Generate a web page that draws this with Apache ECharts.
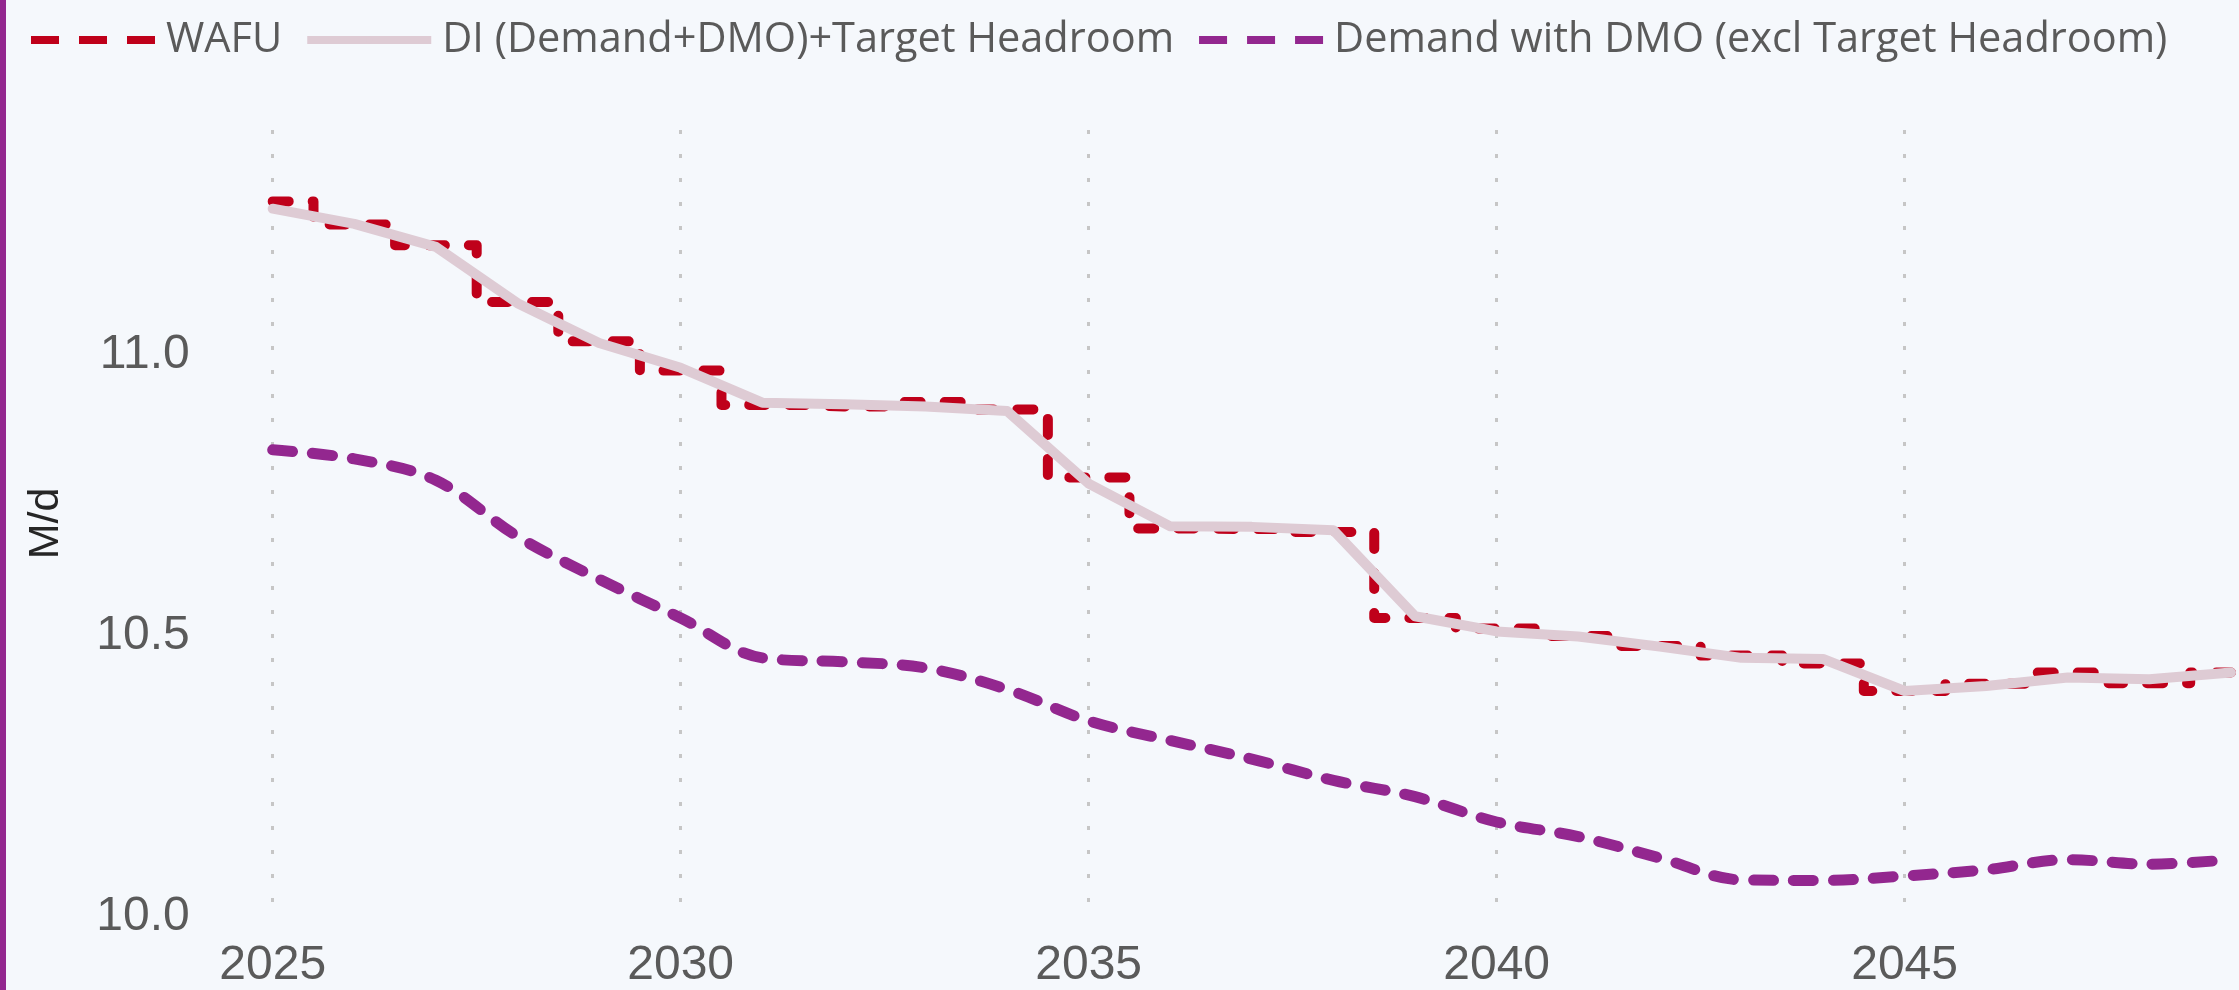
<!DOCTYPE html>
<html>
<head>
<meta charset="utf-8">
<script src="https://cdn.jsdelivr.net/npm/echarts@6/dist/echarts.min.js"></script>
<style>
html,body{margin:0;padding:0;background:#f5f8fc;}
#chart{width:2239px;height:990px;}
</style>
</head>
<body>
<div id="chart"></div>
<script>
const years = [2025,2026,2027,2028,2029,2030,2031,2032,2033,2034,2035,2036,2037,2038,2039,2040,2041,2042,2043,2044,2045,2046,2047,2048,2049];
const wafu = [11.273,11.232,11.195,11.094,11.024,10.972,10.911,10.908,10.916,10.903,10.782,10.691,10.690,10.685,10.532,10.513,10.500,10.482,10.465,10.451,10.402,10.415,10.435,10.416,10.435];
const diTarget = [11.260,11.233,11.192,11.092,11.021,10.977,10.915,10.912,10.908,10.900,10.771,10.695,10.694,10.688,10.535,10.508,10.499,10.481,10.461,10.459,10.402,10.411,10.426,10.423,10.435];
const demandDmo = [10.831,10.815,10.777,10.677,10.601,10.532,10.461,10.454,10.443,10.405,10.349,10.314,10.281,10.243,10.214,10.169,10.143,10.105,10.066,10.065,10.073,10.084,10.102,10.094,10.102];
const seriesNames = ['WAFU','DI (Demand+DMO)+Target Headroom','Demand with DMO (excl Target Headroom)'];
const yAxisName = 'M/d';

const RED = '#bf001a', PINK = '#decbd4', PURPLE = '#93278f';
const pairs = arr => years.map((y,i)=>[y, arr[i]]);

const chart = echarts.init(document.getElementById('chart'), null, {renderer:'canvas'});
chart.setOption({
  backgroundColor: '#f5f8fc',
  animation: false,
  graphic: [{type:'rect', left:0, top:0, shape:{width:6, height:990}, style:{fill:PURPLE}}],
  legend: {
    left: 27, top: 19, padding: 0, itemGap: 21,
    itemWidth: 124, itemHeight: 8,
    textStyle: {fontFamily:'Open Sans', fontSize:41.5, color:'#5a5a5a', padding:[0,0,0,6]},
    data: [
      {name: seriesNames[0], lineStyle:{width:8, type:[28,20], cap:'butt', color:RED}},
      {name: seriesNames[1], lineStyle:{width:8, type:'solid', cap:'butt', color:PINK}},
      {name: seriesNames[2], lineStyle:{width:8, type:[28,20], cap:'butt', color:PURPLE}}
    ]
  },
  grid: {left: 272.7, right: 8, top: 130, bottom: 67.5, containLabel: false},
  xAxis: {
    type: 'value', min: 2025, max: 2049, interval: 5,
    axisLine: {show:false}, axisTick: {show:false},
    axisLabel: {fontFamily:'Liberation Sans', fontSize:48, color:'#5a5a5a', margin:25, showMaxLabel:false,
      formatter: v => (v % 5 === 0 ? String(v) : '')},
    splitLine: {show:true, showMinLine:true, showMaxLine:false, lineStyle:{color:'#c6c6c6', width:3, type:[4,20]}}
  },
  yAxis: {
    type: 'value', min: 10.0, max: 11.4, interval: 0.5,
    name: yAxisName, nameLocation: 'middle', nameGap: 205,
    nameTextStyle: {fontFamily:'Liberation Sans', fontSize:43, color:'#262626'},
    axisLine: {show:false}, axisTick: {show:false}, splitLine: {show:false},
    axisLabel: {fontFamily:'Liberation Sans', fontSize:48, color:'#5a5a5a', margin:83, showMaxLabel:false,
      formatter: v => (Math.abs(v*2 - Math.round(v*2)) < 1e-9 ? v.toFixed(1) : '')}
  },
  series: [
    {name: seriesNames[0], type:'line', step:'middle', data: pairs(wafu), symbol:'none', clip:false,
     lineStyle:{color:RED, width:10, type:[16,24], cap:'round', join:'round'}, itemStyle:{color:RED}},
    {name: seriesNames[1], type:'line', data: pairs(diTarget), symbol:'none', clip:false,
     lineStyle:{color:PINK, width:10, cap:'round', join:'round'}, itemStyle:{color:PINK}},
    {name: seriesNames[2], type:'line', smooth:0.35, data: pairs(demandDmo), symbol:'none', clip:false,
     lineStyle:{color:PURPLE, width:11, type:[20,20], cap:'round', join:'round'}, itemStyle:{color:PURPLE}}
  ]
});
</script>
</body>
</html>
